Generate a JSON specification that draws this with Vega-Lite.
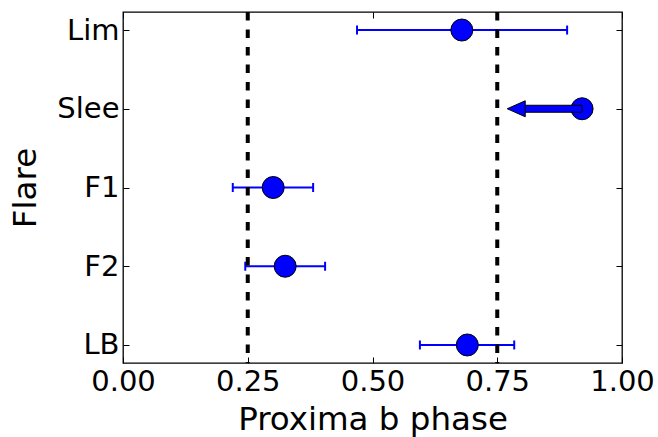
{
  "$schema": "https://vega.github.io/schema/vega-lite/v6.json",
  "width": 499,
  "height": 351,
  "autosize": {"type": "none"},
  "padding": {"left": 123, "top": 12, "right": 36, "bottom": 74},
  "background": "white",
  "config": {
    "view": {"stroke": "black", "strokeWidth": 1.3},
    "font": "DejaVu Sans",
    "axis": {
      "grid": false,
      "domain": false,
      "tickColor": "black",
      "tickSize": -6,
      "tickWidth": 1,
      "labelColor": "black",
      "titleColor": "black",
      "labelFont": "DejaVu Sans",
      "titleFont": "DejaVu Sans",
      "labelFontSize": 29,
      "titleFontSize": 32.5,
      "titleFontWeight": "normal"
    }
  },
  "data": {
    "values": [
      {"flare": "Lim", "phase": 0.679, "lo": 0.469, "hi": 0.890, "shaft": null, "tip": null},
      {"flare": "Slee", "phase": 0.92, "lo": null, "hi": null, "shaft": 0.80, "tip": 0.770},
      {"flare": "F1", "phase": 0.301, "lo": 0.220, "hi": 0.381, "shaft": null, "tip": null},
      {"flare": "F2", "phase": 0.325, "lo": 0.245, "hi": 0.405, "shaft": null, "tip": null},
      {"flare": "LB", "phase": 0.690, "lo": 0.595, "hi": 0.784, "shaft": null, "tip": null}
    ]
  },
  "layer": [
    {
      "transform": [{"filter": "datum.lo != null"}],
      "mark": {"type": "rule", "stroke": "#0000ff", "strokeWidth": 2},
      "encoding": {
        "x": {
          "field": "lo", "type": "quantitative",
          "scale": {"domain": [0, 1], "nice": false, "zero": false},
          "axis": {"orient": "bottom", "values": [0, 0.25, 0.5, 0.75, 1], "format": ".2f", "labelPadding": 10, "title": "Proxima b phase", "titlePadding": 7, "labelFlush": false, "labelOverlap": false}
        },
        "x2": {"field": "hi"},
        "y": {
          "field": "flare", "type": "nominal", "sort": ["Lim", "Slee", "F1", "F2", "LB"],
          "scale": {"type": "point", "padding": 0.229},
          "axis": {"orient": "left", "labelPadding": 10, "title": "Flare", "titlePadding": 14}
        }
      }
    },
    {
      "transform": [{"filter": "datum.lo != null"}],
      "mark": {"type": "tick", "color": "#0000ff", "size": 9, "thickness": 2, "opacity": 1},
      "encoding": {
        "x": {"field": "lo", "type": "quantitative", "axis": null},
        "y": {"field": "flare", "type": "nominal", "sort": ["Lim", "Slee", "F1", "F2", "LB"], "axis": null}
      }
    },
    {
      "transform": [{"filter": "datum.hi != null"}],
      "mark": {"type": "tick", "color": "#0000ff", "size": 9, "thickness": 2, "opacity": 1},
      "encoding": {
        "x": {"field": "hi", "type": "quantitative", "axis": null},
        "y": {"field": "flare", "type": "nominal", "sort": ["Lim", "Slee", "F1", "F2", "LB"], "axis": null}
      }
    },
    {
      "mark": {"type": "point", "shape": "circle", "filled": true, "fill": "#0000ff", "stroke": "black", "strokeWidth": 1, "size": 484, "opacity": 1},
      "encoding": {
        "x": {"field": "phase", "type": "quantitative", "axis": {"orient": "top", "values": [0, 0.25, 0.5, 0.75, 1], "labels": false, "title": null}},
        "y": {"field": "flare", "type": "nominal", "sort": ["Lim", "Slee", "F1", "F2", "LB"], "axis": {"orient": "right", "labels": false, "title": null}}
      }
    },
    {
      "transform": [{"filter": "datum.shaft != null"}],
      "mark": {"type": "bar", "size": 7, "fill": "#0000ff", "stroke": "black", "strokeWidth": 1},
      "encoding": {
        "x": {"field": "shaft", "type": "quantitative", "axis": null},
        "x2": {"field": "phase"},
        "y": {"field": "flare", "type": "nominal", "sort": ["Lim", "Slee", "F1", "F2", "LB"], "axis": null}
      }
    },
    {
      "transform": [{"filter": "datum.tip != null"}],
      "mark": {"type": "point", "shape": "M 0 0 L 2 -0.889 L 2 0.889 Z", "filled": true, "fill": "#0000ff", "stroke": "black", "strokeWidth": 1, "size": 324, "opacity": 1},
      "encoding": {
        "x": {"field": "tip", "type": "quantitative", "axis": null},
        "y": {"field": "flare", "type": "nominal", "sort": ["Lim", "Slee", "F1", "F2", "LB"], "axis": null}
      }
    },
    {
      "data": {"values": [{"v": 0.25}, {"v": 0.75}]},
      "mark": {"type": "rule", "stroke": "black", "strokeWidth": 4, "strokeDash": [8.5, 9]},
      "encoding": {
        "x": {"field": "v", "type": "quantitative", "axis": null}
      }
    }
  ],
  "resolve": {"axis": {"x": "independent", "y": "independent"}}
}
